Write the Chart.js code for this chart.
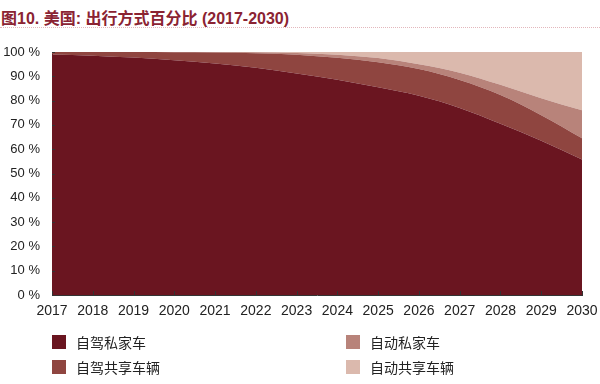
<!DOCTYPE html>
<html>
<head>
<meta charset="utf-8">
<script src="https://cdn.jsdelivr.net/npm/chart.js@4"></script>
<style>
    body { margin: 0; background: #fff; }
    #wrap { position: relative; width: 600px; height: 384px; overflow: hidden; }
    #title {
        position: absolute; left: 1px; top: 5px;
        font: bold 16px "Liberation Sans", "Noto Sans CJK SC", sans-serif;
        color: #8b2332; white-space: nowrap;
    }
    #rule {
        position: absolute; left: 0; top: 27px; width: 600px; height: 0;
        border-top: 1.5px dotted #e3b7bc;
    }
    #chart { position: absolute; left: 0; top: 0; }
    .lg {
        position: absolute; font: 14px "Noto Sans CJK SC", sans-serif; color: #222;
        white-space: nowrap; line-height: 16px;
    }
    .lg i { position: absolute; left: 0; top: 1px; width: 14px; height: 14px; }
    .lg span { position: absolute; left: 24px; top: 0; }
</style>
</head>
<body>
<div id="wrap">
    <div id="title">图10. 美国: 出行方式百分比 (2017-2030)</div>
    <div id="rule"></div>
    <canvas id="chart" width="600" height="384"></canvas>
    <div id="legend"></div>
</div>
<script>
    const years = ['2017', '2018', '2019', '2020', '2021', '2022', '2023',
        '2024', '2025', '2026', '2027', '2028', '2029', '2030'];

    // shares in %
    const selfDrivePrivate = [99, 98.5, 97.7, 96.6, 95.3, 93.5, 91.2, 88.6, 85.5, 82, 77, 70.5, 63.5, 55.8];
    const selfDriveShared = [1, 1.5, 2.3, 3.3, 4.5, 6, 7.7, 9, 10.3, 11, 11.5, 11.8, 10.5, 8.7];
    const autoPrivate = [0, 0, 0, 0.1, 0.2, 0.4, 0.7, 1.3, 1.7, 2, 3, 4.2, 7, 11.5];
    const autoShared = [0, 0, 0, 0, 0, 0.1, 0.4, 1.1, 2.5, 5, 8.5, 13.5, 19, 24];

    const names = ['自驾私家车', '自驾共享车辆', '自动私家车', '自动共享车辆'];
    const colors = ['#6a1520', '#8f4540', '#b8837a', '#dbb9ad'];
    const series = [selfDrivePrivate, selfDriveShared, autoPrivate, autoShared];

    // small inward tick marks, like the original
    const innerTicks = {
        id: 'innerTicks',
        afterDatasetsDraw(chart) {
            const ctx = chart.ctx;
            const x = chart.scales.x, y = chart.scales.y;
            ctx.save();
            ctx.strokeStyle = '#333';
            ctx.lineWidth = 1;
            ctx.beginPath();
            years.forEach((yr, i) => {
                const px = Math.round(x.getPixelForValue(i)) + 0.5;
                ctx.moveTo(px, y.bottom);
                ctx.lineTo(px, y.bottom - 4);
            });
            for (let v = 0; v <= 100; v += 10) {
                const py = Math.round(y.getPixelForValue(v)) + 0.5;
                ctx.moveTo(x.left, py);
                ctx.lineTo(x.left + 3, py);
            }
            ctx.stroke();
            ctx.restore();
        }
    };

    const xFont = {family: '"Liberation Sans", Arial, sans-serif', size: 14};
    const yFont = {family: '"Liberation Sans", Arial, sans-serif', size: 13};

    new Chart(document.getElementById('chart'), {
        type: 'line',
        data: {
            labels: years,
            datasets: series.map((d, i) => ({
                label: names[i],
                data: d,
                backgroundColor: colors[i],
                borderColor: colors[i],
                borderWidth: 0,
                pointRadius: 0,
                fill: i === 0 ? 'origin' : '-1',
                cubicInterpolationMode: 'monotone',
            }))
        },
        options: {
            responsive: false,
            animation: false,
            layout: {padding: {top: 52, right: 18, bottom: 64, left: 0}},
            plugins: {legend: {display: false}, tooltip: {enabled: false}},
            scales: {
                x: {
                    grid: {display: false, drawTicks: false},
                    border: {display: true, color: '#333', width: 1},
                    ticks: {color: '#222', font: xFont, padding: 8, maxRotation: 0, autoSkip: false},
                    afterFit: (s) => {
                        s.height = 25;
                        s.paddingLeft = 0;
                        s.paddingRight = 0;
                    },
                },
                y: {
                    stacked: true,
                    min: 0,
                    max: 100,
                    grid: {display: false, drawTicks: false},
                    border: {display: true, color: '#333', width: 1},
                    ticks: {
                        stepSize: 10, color: '#222', font: yFont, padding: 12,
                        callback: (v) => v + ' %'
                    },
                    afterFit: (s) => { s.width = 52; },
                }
            }
        },
        plugins: [innerTicks]
    });

    // legend in two columns, as in the picture
    const legendPos = [[52, 334], [52, 359], [346, 334], [346, 359]];
    const legend = document.getElementById('legend');
    names.forEach((n, i) => {
        const el = document.createElement('div');
        el.className = 'lg';
        el.style.left = legendPos[i][0] + 'px';
        el.style.top = legendPos[i][1] + 'px';
        el.innerHTML = `<i style="background:${colors[i]}"></i><span>${n}</span>`;
        legend.appendChild(el);
    });
</script>
</body>
</html>
